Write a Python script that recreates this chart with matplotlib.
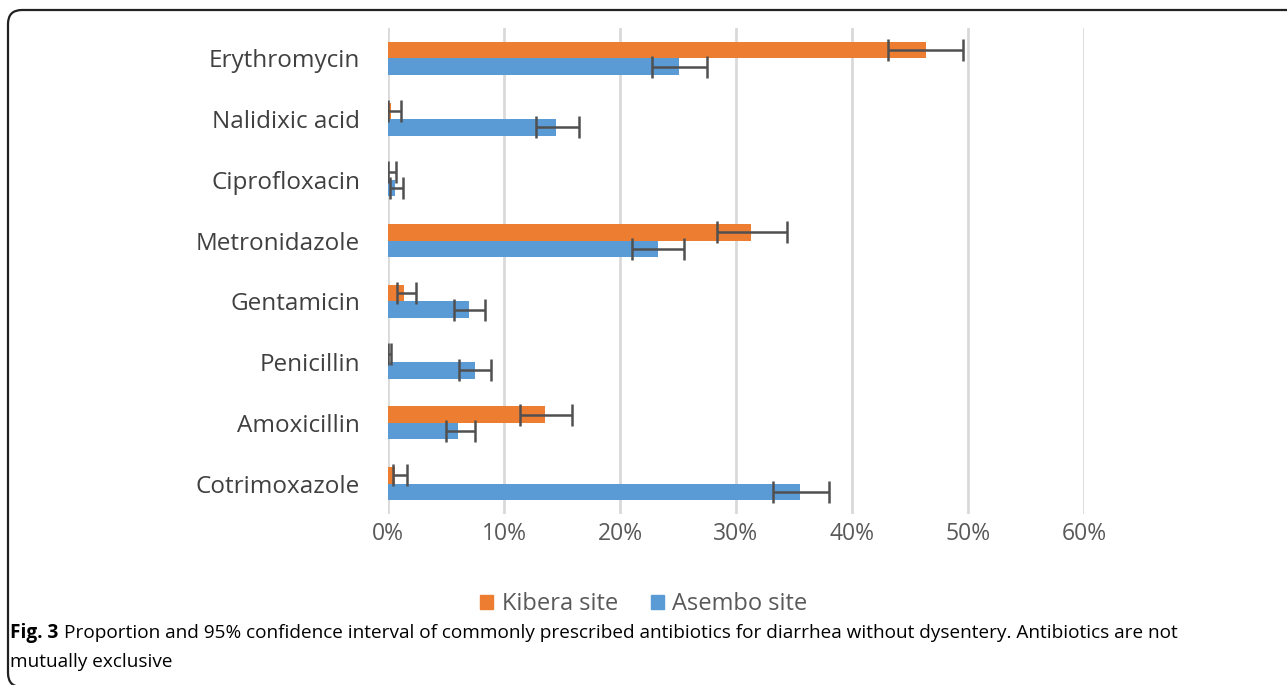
import matplotlib
matplotlib.use("Agg")
import matplotlib.pyplot as plt
from matplotlib.patches import FancyBboxPatch, Patch
import numpy as np

categories = ["Erythromycin", "Nalidixic acid", "Ciprofloxacin", "Metronidazole",
              "Gentamicin", "Penicillin", "Amoxicillin", "Cotrimoxazole"]
kibera = [46.4, 0.3, 0.1, 31.3, 1.4, 0.1, 13.5, 0.6]
kibera_lo = [43.1, 0.0, 0.0, 28.4, 0.8, 0.0, 11.4, 0.4]
kibera_hi = [49.6, 1.1, 0.7, 34.4, 2.4, 0.3, 15.9, 1.6]
asembo = [25.1, 14.5, 0.6, 23.3, 7.0, 7.5, 6.0, 35.5]
asembo_lo = [22.8, 12.8, 0.2, 21.0, 5.7, 6.1, 5.0, 33.2]
asembo_hi = [27.5, 16.5, 1.3, 25.5, 8.4, 8.9, 7.5, 38.0]
xticks = [0, 10, 20, 30, 40, 50, 60]
series_names = ["Kibera site", "Asembo site"]

ORANGE = "#ED7D31"
BLUE = "#5B9BD5"
ERR = "#505050"
W, H = 1287, 685

fig = plt.figure(figsize=(W / 100, H / 100), dpi=100)
ax = fig.add_axes([388 / W, 1 - 514 / H, (1084 - 388) / W, (514 - 28) / H])

n = len(categories)
y = np.arange(n)[::-1].astype(float)
h = 0.27

k = np.array(kibera); a = np.array(asembo)
kerr = [k - np.array(kibera_lo), np.array(kibera_hi) - k]
aerr = [a - np.array(asembo_lo), np.array(asembo_hi) - a]

ax.barh(y + h / 2, k, height=h, color=ORANGE, zorder=3)
ax.barh(y - h / 2, a, height=h, color=BLUE, zorder=3)
ax.errorbar(k, y + h / 2, xerr=kerr, fmt="none", ecolor=ERR, elinewidth=1.8,
            capsize=8, capthick=1.8, zorder=4)
ax.errorbar(a, y - h / 2, xerr=aerr, fmt="none", ecolor=ERR, elinewidth=1.8,
            capsize=8, capthick=1.8, zorder=4)

ax.set_xlim(0, 60)
ax.set_ylim(-0.5, n - 0.5)
ax.set_xticks(xticks)
ax.set_xticklabels([f"{t}%" for t in xticks])
ax.set_yticks(y)
ax.set_yticklabels(categories)
ax.xaxis.grid(True, color="#d9d9d9", linewidth=2, zorder=0)
ax.set_axisbelow(True)
for s in ax.spines.values():
    s.set_visible(False)
ax.tick_params(axis="y", length=0, pad=20, labelsize=17.5, labelcolor="#404040")
ax.tick_params(axis="x", length=0, pad=6, labelsize=16.5, labelcolor="#595959")
for lab in ax.get_yticklabels() + ax.get_xticklabels():
    lab.set_family("Open Sans")

handles = [Patch(color=ORANGE), Patch(color=BLUE)]
leg = fig.legend(handles, series_names, loc="center", bbox_to_anchor=(644 / W, 1 - 604 / H),
                 ncol=2, frameon=False, handlelength=0.55, handleheight=0.55,
                 handletextpad=0.35, columnspacing=1.4,
                 prop={"family": "Open Sans", "size": 17})
for t in leg.get_texts():
    t.set_color("#595959")

cap_font = ["Open Sans", "DejaVu Sans"]
cap_size = 13.65
t1 = fig.text(10 / W, 1 - 633 / H, "Fig. 3", fontsize=cap_size, fontweight="bold",
              family=cap_font, va="center", ha="left")
fig.canvas.draw()
bb = t1.get_window_extent()
fig.text((bb.x1 + 6) / W, 1 - 633 / H,
         "Proportion and 95% confidence interval of commonly prescribed antibiotics for diarrhea without dysentery. Antibiotics are not",
         fontsize=cap_size, family=cap_font, va="center", ha="left")
fig.text(10 / W, 1 - 662 / H, "mutually exclusive", fontsize=cap_size, family=cap_font,
         va="center", ha="left")

border = FancyBboxPatch((8, -2), 1400, H - 8, boxstyle="round,pad=0,rounding_size=14",
                        transform=None, fill=False, edgecolor="#222222", linewidth=1.6,
                        figure=fig)
fig.patches.append(border)

fig.savefig("out.png", dpi=100)
